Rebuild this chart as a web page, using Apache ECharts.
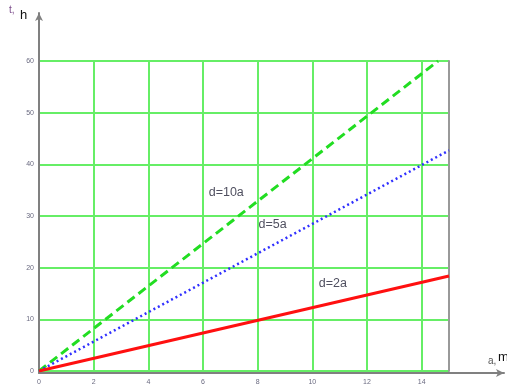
<!DOCTYPE html>
<html>
<head>
<meta charset="utf-8">
<script src="https://cdn.jsdelivr.net/npm/echarts@6/dist/echarts.min.js"></script>
<style>
html, body { margin: 0; padding: 0; background: #fff; }
#chart { width: 507px; height: 386px; }
</style>
</head>
<body>
<div id="chart"></div>
<script>
// данные графика
var lineNames = ['d=10a', 'd=5a', 'd=2a'];
var d10 = [[0, 0], [14.6, 60]];
var d5 = [[0, 0], [15, 42.7]];
var d2 = [[0, 0], [15, 18.4]];
// где стоят подписи линий (в единицах осей)
var notes = [[6.85, 34.6], [8.55, 28.3], [10.75, 16.9]];
var xMax = 15, yMax = 60;

var font = 'Liberation Sans';
var gray = '#808080';
var green = '#66ee66';

var myChart = echarts.init(document.getElementById('chart'));

function noteMark(i) {
	return {
		symbol: 'circle',
		symbolSize: 2,
		silent: true,
		itemStyle: { color: 'rgba(0,0,0,0)' },
		label: { show: true, position: 'inside', formatter: lineNames[i], color: '#505060', fontSize: 12.5, fontFamily: font },
		data: [{ coord: notes[i] }]
	};
}

var option = {
	animation: false,
	backgroundColor: '#fff',
	grid: [
		{ left: 39, top: 61, width: 410, bottom: 13 },
		{ left: 39, top: 13, right: 3, bottom: 13 }
	],
	xAxis: [
		{
			gridIndex: 0, type: 'value', min: 0, max: xMax, interval: 2,
			axisLine: { show: false }, axisTick: { show: false },
			axisLabel: { fontSize: 7, color: '#6a6a80', margin: 8, showMaxLabel: false, fontFamily: font },
			splitLine: { show: true, showMaxLine: false, lineStyle: { color: green, width: 2 } }
		},
		{
			gridIndex: 1, type: 'value', min: 0, max: 1,
			axisLine: { show: true, symbol: ['none', 'arrow'], symbolSize: [6, 8], lineStyle: { color: gray, width: 2 } },
			axisTick: { show: false }, axisLabel: { show: false }, splitLine: { show: false }
		}
	],
	yAxis: [
		{
			gridIndex: 0, type: 'value', min: 0, max: yMax, interval: 10,
			axisLine: { show: false }, axisTick: { show: false },
			axisLabel: { fontSize: 7, color: '#6a6a80', margin: 5, fontFamily: font },
			splitLine: { show: true, lineStyle: { color: green, width: 2 } }
		},
		{
			gridIndex: 1, type: 'value', min: 0, max: 1,
			axisLine: { show: true, symbol: ['none', 'arrow'], symbolSize: [6, 8], lineStyle: { color: gray, width: 2 } },
			axisTick: { show: false }, axisLabel: { show: false }, splitLine: { show: false }
		},
		{
			// правая рамка
			gridIndex: 0, type: 'value', position: 'right', min: 0, max: yMax,
			axisLine: { show: true, lineStyle: { color: '#999', width: 2 } },
			axisTick: { show: false }, axisLabel: { show: false }, splitLine: { show: false }
		}
	],
	graphic: [
		{ type: 'text', left: 9, top: 5, style: { text: 't,', fontSize: 10, fill: '#7a4a8a', fontFamily: font } },
		{ type: 'text', left: 20, top: 9, style: { text: 'h', fontSize: 13, fill: '#111', fontFamily: font } },
		{ type: 'text', left: 488, top: 356, style: { text: 'a,', fontSize: 10, fill: '#555', fontFamily: font } },
		{ type: 'text', left: 498, top: 351, style: { text: 'm', fontSize: 13, fill: '#111', fontFamily: font } }
	],
	series: [
		{
			name: lineNames[0], type: 'line', xAxisIndex: 0, yAxisIndex: 0, data: d10,
			showSymbol: false, z: 5,
			lineStyle: { color: '#22dd22', width: 3, type: [9, 5] },
			markPoint: noteMark(0)
		},
		{
			name: lineNames[1], type: 'line', xAxisIndex: 0, yAxisIndex: 0, data: d5,
			showSymbol: false, z: 5,
			lineStyle: { color: '#3030ff', width: 2.5, type: [2, 3] },
			markPoint: noteMark(1)
		},
		{
			name: lineNames[2], type: 'line', xAxisIndex: 0, yAxisIndex: 0, data: d2,
			showSymbol: false, z: 5,
			lineStyle: { color: '#ff1010', width: 3 },
			markPoint: noteMark(2)
		}
	]
};

myChart.setOption(option);
</script>
</body>
</html>
